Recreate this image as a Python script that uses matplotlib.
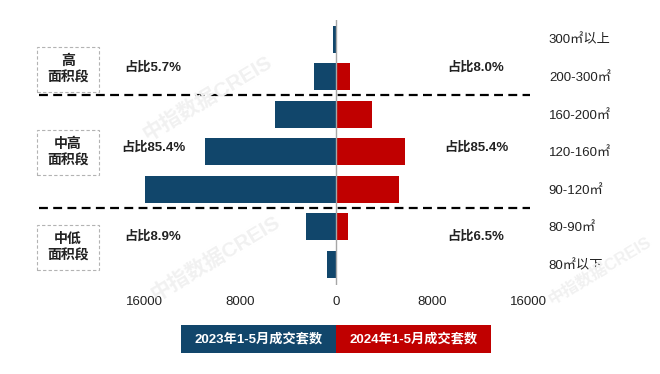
import matplotlib
matplotlib.use("Agg")
import matplotlib.pyplot as plt
from matplotlib.patches import Rectangle

plt.rcParams['font.family'] = ['Liberation Sans', 'Noto Sans CJK SC', 'DejaVu Sans']

categories = ["300㎡以上", "200-300㎡", "160-200㎡", "120-160㎡", "90-120㎡", "80-90㎡", "80㎡以下"]
sales_2023 = [280, 1830, 5090, 10950, 15920, 2500, 750]
sales_2024 = [100, 1190, 3030, 5750, 5250, 1000, 100]
xtick_vals = [-16000, -8000, 0, 8000, 16000]
xtick_labels = ["16000", "8000", "0", "8000", "16000"]
groups = ["高\n面积段", "中高\n面积段", "中低\n面积段"]
share_2023 = ["占比5.7%", "占比85.4%", "占比8.9%"]
share_2024 = ["占比8.0%", "占比85.4%", "占比6.5%"]
legend_labels = ["2023年1-5月成交套数", "2024年1-5月成交套数"]

BLUE = "#11466B"
RED = "#C00000"
W, H = 660, 374

def fx(px):
    return px / W

def fy(py):
    return 1 - py / H

fig = plt.figure(figsize=(6.6, 3.74), dpi=100)

# faint watermarks
for (cx, cy, fs) in [(207, 98, 15), (215, 258, 15), (600, 270, 12)]:
    fig.text(fx(cx), fy(cy), "中指数据CREIS", rotation=31, color="#f1f1f1",
             fontsize=fs, fontweight="bold", ha="center", va="center", zorder=0)

ax = fig.add_axes([fx(144), fy(285), fx(528) - fx(144), (285 - 20) / H])
ax.set_facecolor("none")
rows = list(range(len(categories)))
ax.barh(rows, [-v for v in sales_2023], height=0.72, color=BLUE, zorder=2)
ax.barh(rows, sales_2024, height=0.72, color=RED, zorder=2)
ax.axvline(0, color="#a6a6a6", lw=1.0, zorder=3)

ax.set_xlim(-16000, 16000)
ax.set_ylim(6.56, -0.5067)
ax.set_xticks(xtick_vals)
ax.set_xticklabels(xtick_labels, fontsize=9.5, color="#222222")
ax.tick_params(axis="x", length=0, pad=8)
ax.yaxis.tick_right()
ax.set_yticks(rows)
ax.set_yticklabels(categories, fontsize=9.5, color="#222222")
ax.tick_params(axis="y", length=0, pad=15)
for s in ax.spines.values():
    s.set_visible(False)

# dashed separators
for r in (1.5, 4.5):
    ax.plot([-24750, 16170], [r, r], color="black", lw=1.6,
            linestyle=(0, (4, 2.4)), clip_on=False, zorder=4)

# group boxes
box_tops = [47, 130, 225]
for i, top in enumerate(box_tops):
    fig.add_artist(Rectangle((fx(37), fy(top + 45)), fx(99) - fx(37), 45 / H,
                             transform=fig.transFigure, fill=False,
                             edgecolor="#b3b3b3", lw=0.8, linestyle=(0, (3, 2))))
    fig.text(fx(68), fy(top + 22.5), groups[i], ha="center", va="center",
             fontsize=10, fontweight="bold", color="#222222", linespacing=1.2)

share_y = [68, 148, 237]
for i, yy in enumerate(share_y):
    fig.text(fx(153), fy(yy), share_2023[i], ha="center", va="center",
             fontsize=9.5, fontweight="bold", color="#222222")
    fig.text(fx(476), fy(yy), share_2024[i], ha="center", va="center",
             fontsize=9.5, fontweight="bold", color="#222222")

# legend boxes
for i, (x0, col) in enumerate([(181, BLUE), (336, RED)]):
    fig.add_artist(Rectangle((fx(x0), fy(353)), 155 / W, 28 / H,
                             transform=fig.transFigure, color=col, lw=0))
    fig.text(fx(x0 + 77.5), fy(339), legend_labels[i], ha="center", va="center",
             fontsize=9.5, fontweight="bold", color="white")

fig.savefig("out.png", dpi=100)
